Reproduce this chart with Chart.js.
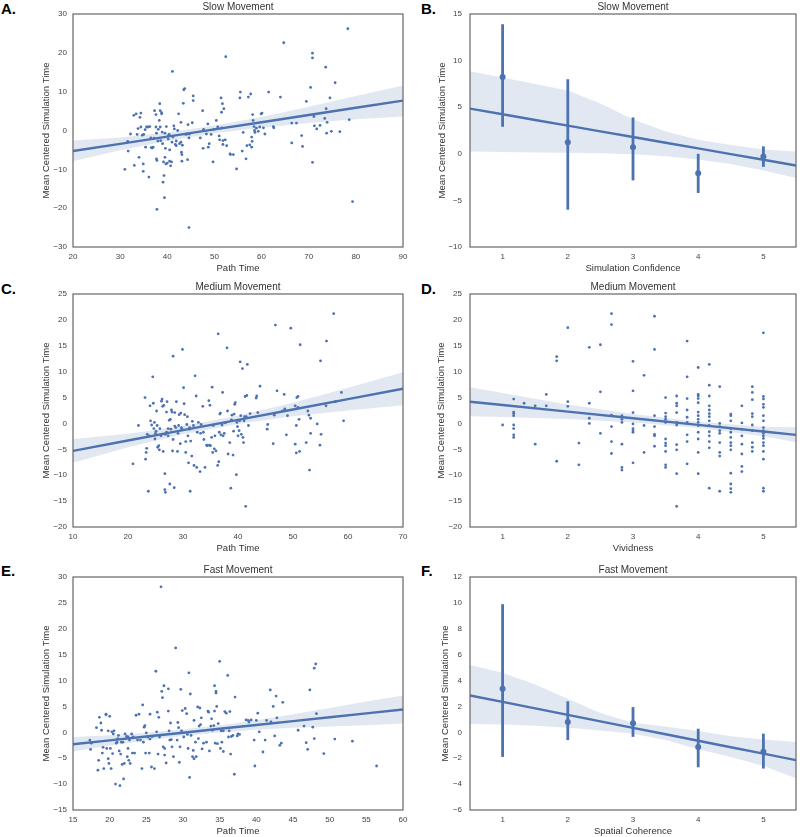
<!DOCTYPE html>
<html>
<head>
<meta charset="utf-8">
<script src="https://cdn.jsdelivr.net/npm/chart.js@4/dist/chart.umd.min.js"></script>
<style>
  body { margin: 0; width: 800px; height: 837px; overflow: hidden; background: #fff; position: relative; }
  canvas { position: absolute; }
  .lab { position: absolute; font: bold 15px "Liberation Sans", Arial, sans-serif; line-height: 1; color: #000; }
</style>
</head>
<body>
<div class="lab" style="left:1px;top:1px">A.</div>
<div class="lab" style="left:421px;top:1px">B.</div>
<div class="lab" style="left:1px;top:281px">C.</div>
<div class="lab" style="left:421px;top:281px">D.</div>
<div class="lab" style="left:1px;top:563px">E.</div>
<div class="lab" style="left:421px;top:563px">F.</div>
<canvas id="pa" width="410" height="278" style="left:0;top:0"></canvas>
<canvas id="pb" width="400" height="278" style="left:400px;top:0"></canvas>
<canvas id="pc" width="410" height="278" style="left:0;top:280px"></canvas>
<canvas id="pd" width="400" height="278" style="left:400px;top:280px"></canvas>
<canvas id="pe" width="410" height="278" style="left:0;top:563px"></canvas>
<canvas id="pf" width="400" height="278" style="left:400px;top:563px"></canvas>
<script>
// ---- A. slow movement: path time vs simulation time
const slowPath = [31.0,31.6,31.7,32.2,32.9,33.4,33.0,33.6,33.8,34.2, 34.0,34.4,34.4,34.7,34.9,34.9,35.0,35.3,35.4,35.6,
  35.9,36.1,36.3,36.5,36.6,36.8,37.0,37.2,37.3,37.6, 37.6,37.7,37.7,37.8,37.8,38.0,38.1,38.3,38.4,38.5,
  38.5,38.6,38.8,38.8,38.9,39.0,39.1,39.2,39.3,39.4, 39.5,39.5,39.6,39.7,39.8,40.0,40.2,40.2,40.4,40.5,
  40.5,40.7,40.9,41.0,41.1,41.2,41.4,41.5,41.7,41.9, 41.9,42.2,42.4,42.6,42.9,42.9,43.0,43.1,43.1,43.2,
  43.4,43.5,43.7,43.9,44.2,44.3,44.4,44.6,44.6,44.7, 45.3,45.5,45.5,47.0,47.5,47.6,47.7,48.3,48.6,48.7,
  48.9,49.3,49.7,49.9,50.4,50.7,51.0,51.1,51.4,51.5, 51.6,51.7,51.8,51.8,52.0,52.3,52.4,52.6,53.3,53.4,
  54.0,54.7,55.4,55.5,55.9,56.1,56.7,56.9,57.2,57.5, 57.7,57.9,57.9,58.0,58.1,58.2,58.4,58.5,58.6,58.9,
  59.3,59.6,59.9,60.1,60.4,60.7,61.5,62.5,62.6,64.0, 64.7,66.4,66.4,67.4,68.5,68.7,69.5,70.4,70.8,70.8,
  70.8,71.1,71.2,71.7,72.4,73.4,73.6,73.7,73.8,73.9, 74.5,74.8,75.6,76.6,78.3,78.6,79.3];
const slowSim = [-10.0,-2.8,-5.3,-0.9,3.9,4.3,-9.0,-1.0,0.5,3.4, -6.9,4.5,0.9,-1.2,-8.6,-10.5,-1.0,0.2,-4.3,0.9,
  0.9,-12.0,1.0,-1.9,-4.4,-4.5,-4.3,-2.0,5.1,0.9, 4.1,-0.7,-7.3,-20.3,-7.7,-2.7,0.3,2.6,6.9,5.1,
  0.9,-2.6,4.6,4.3,-0.4,-3.4,-13.3,-8.1,-11.6,-17.3, -6.9,-0.7,-4.6,-8.6,1.0,-8.4,-2.2,-1.4,-1.0,-5.0,
  -7.9,-9.1,-8.1,-3.0,15.2,-1.7,1.2,0.4,-3.6,-2.7, -3.9,0.0,4.3,-3.4,2.1,-3.0,-5.6,-6.2,-7.9,-3.8,
  7.0,10.5,10.8,-1.0,-0.9,-7.5,1.5,-25.0,-1.9,-0.9, 2.0,8.9,7.7,-1.9,5.1,-4.6,0.3,-0.9,1.7,-4.3,
  -3.4,-1.0,-8.1,0.3,2.6,0.9,-1.4,-2.4,8.4,4.7, 0.7,6.9,-2.6,-3.6,5.6,-2.4,19.0,-3.9,-6.0,-6.2,
  -6.2,-9.9,8.4,9.9,-5.3,-0.5,-7.3,-3.9,8.6,-3.7, 9.4,-1.7,-4.3,-2.8,4.1,2.6,1.0,0.0,-0.5,0.6,
  -0.2,0.9,4.3,4.5,0.7,-0.9,9.9,1.0,0.7,8.6, 22.6,1.9,-3.2,1.9,-1.3,-4.1,7.5,11.1,19.9,18.7,
  -8.2,3.6,1.2,0.4,1.3,3.1,16.3,5.6,-0.7,2.1, 8.4,-0.2,12.3,-0.3,26.2,2.8,-18.3];
const slowFitX = [20, 30, 40, 50, 60, 70, 80, 90];
const slowFitY = [-5.3, -3.44, -1.58, 0.28, 2.14, 4.0, 5.86, 7.7];
const slowCiLo = [-7.9, -5.1, -2.7, -0.7, 0.7, 1.9, 2.9, 3.6];
const slowCiHi = [-2.6, -1.8, -0.5, 1.3, 3.5, 6.1, 8.9, 11.6];

// ---- B. slow movement: simulation confidence
const confLevels = [1, 2, 3, 4, 5];
const confMean = [8.25, 1.25, 0.7, -2.1, -0.3];
const confLo = [2.9, -6.0, -2.85, -4.2, -1.4];
const confHi = [13.9, 8.0, 3.9, 0.0, 0.8];
const confFitX = [0.5, 1, 1.5, 2, 2.5, 3, 3.5, 4, 4.5, 5, 5.5];
const confFitY = [4.85, 4.24, 3.63, 3.02, 2.41, 1.8, 1.19, 0.58, -0.03, -0.64, -1.25];
const confCiLo = [0.25, 0.2, 0.15, 0.1, 0.05, -0.05, -0.25, -0.6, -1.1, -1.8, -2.6];
const confCiHi = [8.85, 8.2, 7.5, 6.8, 5.4, 3.7, 2.4, 1.5, 0.95, 0.45, 0.25];

// ---- C. medium movement: path time
const medPath = [20.9,21.9,23.1,23.2,23.3,23.4,23.5,23.7,23.9,24.0, 24.1,24.3,24.5,24.6,24.7,24.8,24.9,25.0,25.1,25.2,
  25.3,25.4,25.6,25.7,25.8,26.0,26.1,26.2,26.3,26.4, 26.5,26.7,26.7,26.8,26.8,27.0,27.0,27.1,27.3,27.3,
  27.5,27.6,27.7,27.8,27.9,28.0,28.1,28.2,28.2,28.4, 28.5,28.5,28.7,28.8,29.0,29.1,29.2,29.3,29.5,29.6,
  29.7,29.8,29.9,30.1,30.2,30.3,30.5,30.5,30.7,30.8, 30.9,31.0,31.2,31.2,31.3,31.4,31.6,31.7,31.9,32.0,
  32.2,32.4,32.5,32.6,32.8,33.1,33.2,33.3,33.6,33.7, 33.8,34.0,34.3,34.4,34.7,34.8,34.9,35.0,35.2,35.3,
  35.4,35.5,35.7,35.8,36.0,36.3,36.4,36.5,36.6,36.7, 36.8,36.9,37.1,37.2,37.3,37.5,37.7,38.0,38.1,38.2,
  38.5,38.7,38.8,38.9,39.1,39.2,39.3,39.4,39.5,39.7, 39.8,39.9,40.0,40.2,40.3,40.4,40.5,40.6,40.8,40.9,
  41.0,41.1,41.2,41.3,41.4,41.5,41.6,41.7,41.9,42.2, 43.3,43.4,43.6,44.0,45.3,45.4,46.4,46.6,46.8,47.1,
  48.1,48.4,48.5,48.8,49.0,49.6,50.4,50.6,50.7,50.9, 50.9,51.1,51.2,51.3,52.4,52.7,52.9,53.2,53.2,54.4,
  54.9,55.0,55.1,56.0,56.1,57.4,57.7,58.8,59.2,53.0, 50.4,50.6];
const medSim = [-7.8,-0.4,5.0,-6.9,-5.6,-4.8,-2.1,-13.1,-2.4,3.4, 0.5,-0.3,9.0,3.9,-1.0,0.2,-3.0,-1.9,-1.5,2.4,
  -0.4,-4.6,-4.3,-5.1,-1.0,-2.4,4.3,4.7,3.3,-5.4, 3.5,-12.8,-9.7,-2.1,-13.3,2.2,-1.7,4.2,-1.0,-2.4,
  0.6,-11.7,0.8,-1.1,2.6,2.2,-5.3,13.0,-3.1,-12.4, 2.1,-0.5,-0.8,4.2,-5.4,-1.9,-0.4,1.7,-3.9,2.0,
  -0.8,-1.1,14.3,6.9,3.8,1.7,-3.5,-5.6,-0.2,1.3, -2.4,-7.6,-0.8,-1.1,-13.1,-3.4,-6.3,0.4,-0.4,-8.1,
  9.2,5.3,-8.5,-1.7,0.2,-9.3,-1.9,-0.2,3.3,-1.7, -3.1,-8.5,-4.2,-4.3,4.4,-4.2,3.5,-4.3,-2.7,7.0,
  -5.6,-0.4,-4.9,-2.4,-5.3,-8.1,17.3,-7.4,-1.7,1.8, 2.0,-2.2,-0.3,6.0,-2.4,-1.9,0.1,14.6,2.4,-5.9,
  -3.7,-12.5,0.7,1.6,-6.1,-1.5,1.8,3.7,4.0,-9.9, 0.2,-0.6,-2.4,-1.4,0.5,11.9,1.5,-2.1,10.6,-2.7,
  -3.7,0.5,1.3,5.2,-16.0,1.3,5.4,11.4,-0.4,1.9, 4.9,5.3,2.1,7.2,-1.1,-0.2,-3.9,1.6,19.0,6.3,
  2.4,5.6,2.8,-2.2,1.5,18.4,3.4,-0.4,5.0,5.2, 3.1,0.8,-5.4,15.2,-3.7,2.4,1.6,1.0,-1.9,-0.1,
  -4.2,12.1,-2.1,3.4,15.9,21.2,4.2,6.0,0.5,-9.0, -4.0,-5.7];
const medFitX = [10, 20, 30, 40, 50, 60, 70];
const medFitY = [-5.3, -3.3, -1.3, 0.7, 2.7, 4.7, 6.7];
const medCiLo = [-7.6, -4.6, -2.1, -0.1, 1.4, 2.5, 3.5];
const medCiHi = [-3.0, -2.0, -0.5, 1.5, 4.0, 6.9, 9.9];

// ---- D. medium movement: vividness (values grouped by rating level)
const vividLevels = [1.0, 1.17, 1.33, 1.5, 1.67, 1.83, 2.0, 2.17, 2.33, 2.5, 2.67, 2.83, 3.0,
  3.17, 3.33, 3.5, 3.67, 3.83, 4.0, 4.17, 4.33, 4.5, 4.67, 4.83, 5.0];
const vividTimes = [
  [-0.3],
  [4.7, 2.2, 1.9, 1.5, -0.3, -1.0, -2.2, -2.7],
  [3.9],
  [3.4, -4.0],
  [5.6, 3.4],
  [12.9, 12.1, -7.3],
  [18.5, 4.2, 3.3],
  [-3.8, -8.0],
  [14.7, 3.9, 1.0, 0.0],
  [15.2, 6.1, -1.9],
  [21.2, 19.1, 1.6, -0.6, -3.5, -5.8],
  [1.5, 0.8, 0.2, -4.0, -8.5, -9.0],
  [12.0, 6.3, 2.1, -0.1, -1.0, -1.4, -1.7, -7.6],
  [9.3, -0.4, -5.6],
  [20.7, 14.3, 1.5, -0.6, -2.1, -2.4, -4.4],
  [5.0, 2.0, 1.3, 0.8, 0.2, -3.0, -3.8, -4.3, -5.4, -8.0, -8.5],
  [5.3, 3.9, 3.4, 2.1, 0.2, -0.3, -4.1, -5.1, -9.7, -16.0],
  [15.9, 9.0, 4.8, 2.6, 1.2, 0.2, -2.2, -3.5, -7.8],
  [10.8, 5.6, 5.3, 4.8, 4.0, 2.2, 1.5, 0.8, 0.2, -0.4, -1.7, -3.0, -5.6, -9.7],
  [11.4, 7.4, 5.3, 3.4, 2.6, 1.9, 1.3, 0.5, -0.4, -1.6, -2.4, -3.5, -4.7, -12.5],
  [7.1, 0.0, -0.6, -1.4, -1.9, -3.7, -5.6, -6.3, -13.1],
  [1.8, 1.5, 0.5, -1.0, -1.7, -2.7, -3.7, -4.3, -5.1, -9.6, -11.7, -12.6, -13.3],
  [3.4, 0.1, -1.1, -2.4, -4.0, -5.9, -8.3, -9.3],
  [7.1, 6.0, 4.6, 1.9, 1.3, -0.3, -1.4, -3.7, -4.6, -5.4],
  [17.5, 5.2, 4.7, 3.7, 3.1, 1.5, 0.5, -0.8, -1.4, -1.9, -2.4, -2.9, -3.7, -4.3, -5.4, -6.9, -12.5, -13.1]
];
const vividFitX = [0.5, 1, 2, 3, 4, 5, 5.5];
const vividFitY = [4.2, 3.56, 2.28, 1.0, -0.28, -1.56, -2.2];
const vividCiLo = [1.4, 1.26, 0.88, 0.2, -0.88, -2.46, -3.65];
const vividCiHi = [7.0, 5.86, 3.68, 1.8, 0.32, -0.66, -0.75];

// ---- E. fast movement: path time
const fastPath = [17.3,17.4,17.5,18.2,18.4,18.5,18.6,18.8,18.9,19.0, 19.1,19.2,19.5,19.5,19.6,19.8,19.8,19.9,20.0,20.1,
  20.2,20.3,20.4,20.5,20.6,20.8,20.9,21.0,21.1,21.2, 21.3,21.4,21.5,21.6,21.7,21.8,21.9,22.0,22.1,22.3,
  22.4,22.5,22.5,22.6,22.7,22.8,23.0,23.1,23.2,23.4, 23.6,23.8,24.0,24.2,24.4,24.5,24.6,24.7,24.8,24.9,
  25.0,25.2,25.4,25.5,25.5,25.7,25.8,26.1,26.3,26.4, 26.5,26.6,26.7,26.8,27.0,27.1,27.2,27.3,27.4,27.5,
  27.5,27.7,28.0,28.0,28.1,28.2,28.3,28.4,28.5,28.7, 29.0,29.2,29.3,29.4,29.5,29.6,29.7,29.8,29.9,30.1,
  30.3,30.5,30.6,30.7,30.8,30.9,31.0,31.1,31.3,31.4, 31.5,31.5,31.7,31.8,32.0,32.1,32.2,32.3,32.4,32.5,
  32.6,32.8,33.2,33.4,33.5,33.6,33.8,33.9,34.0,34.2, 34.3,34.3,34.4,34.5,34.5,34.6,34.7,34.8,35.0,35.1,
  35.2,35.3,35.5,35.5,35.7,35.9,36.1,36.2,36.3,36.4, 36.5,36.6,36.8,37.0,37.1,37.4,37.5,37.7,38.6,38.9,
  39.0,39.3,39.7,39.8,40.0,40.2,40.4,40.9,41.2,41.4, 41.9,42.0,42.3,42.5,42.7,42.8,43.2,43.4,43.6,45.7,
  46.5,46.8,47.0,47.3,47.7,47.9,47.9,48.1,48.2,49.2, 50.7,53.1,56.4];
const fastSim = [-1.5,-3.3,-2.1,0.9,-7.3,-5.4,2.9,1.8,0.4,-4.0, -2.9,-7.0,3.4,3.5,-3.1,0.3,-5.1,-6.0,3.1,-3.1,
  -7.0,0.1,-4.1,-0.3,0.3,-10.0,-2.1,-1.9,-1.2,-0.6, -3.6,-10.3,-4.2,-1.9,-6.2,-1.9,-9.0,-6.0,-0.3,-0.8,
  -4.7,-0.9,-3.1,-5.4,-1.5,-6.0,-0.3,-4.0,-0.9,-4.0, 3.3,-1.5,3.5,-1.5,-7.0,5.3,-1.9,1.0,1.3,-4.0,
  -0.1,-0.9,-4.0,3.5,-1.3,-6.7,-0.8,-7.0,11.8,0.1, 3.9,-4.2,2.9,-0.9,28.1,7.9,6.7,-2.8,9.0,-3.1,
  -4.4,-5.9,8.4,4.1,0.3,-1.5,1.8,-1.4,-2.8,-4.7, 16.3,-1.5,1.9,0.9,-5.8,-2.8,8.3,0.3,4.2,-0.9,
  4.6,3.6,-0.4,-3.1,11.5,-8.7,7.4,-0.6,-4.7,-3.5, 2.3,-5.1,-1.9,-4.7,4.9,-1.2,1.2,4.7,1.5,2.8,
  -3.2,-2.1,-1.9,4.1,3.9,-3.6,1.2,2.6,0.4,1.3, 9.0,4.1,-2.1,7.9,7.6,5.0,-2.2,1.7,13.7,-3.1,
  0.3,-1.9,-3.7,0.3,4.0,3.7,11.0,-0.9,0.3,4.0, -4.2,-0.8,-0.6,-8.1,6.8,-0.7,-0.3,-0.4,2.4,2.3,
  2.0,2.4,-1.5,-6.5,2.3,3.7,0.1,-3.8,-1.5,2.3, 8.2,2.0,5.0,-0.7,7.0,2.8,-2.5,-2.1,5.8,0.4,
  1.2,-2.0,-3.3,8.2,1.0,-1.2,12.4,13.2,3.6,-4.1, -1.3,-1.7,-6.5];
const fastFitX = [15, 20, 25, 30, 35, 40, 45, 50, 55, 60];
const fastFitY = [-2.3, -1.56, -0.81, -0.07, 0.68, 1.42, 2.17, 2.91, 3.66, 4.4];
const fastCiLo = [-3.7, -2.56, -1.56, -0.72, -0.02, 0.52, 0.87, 1.11, 1.36, 1.7];
const fastCiHi = [-0.9, -0.56, -0.06, 0.58, 1.38, 2.32, 3.47, 4.71, 5.96, 7.1];

// ---- F. fast movement: spatial coherence
const cohLevels = [1, 2, 3, 4, 5];
const cohMean = [3.36, 0.8, 0.7, -1.13, -1.5];
const cohLo = [-1.9, -0.6, -0.35, -2.7, -2.8];
const cohHi = [9.9, 2.4, 1.95, 0.28, -0.1];
const cohFitX = [0.5, 1, 1.5, 2, 2.5, 3, 3.5, 4, 4.5, 5, 5.5];
const cohFitY = [2.85, 2.35, 1.85, 1.35, 0.85, 0.35, -0.15, -0.65, -1.15, -1.65, -2.15];
const cohCiLo = [0.65, 0.6, 0.5, 0.35, 0.15, -0.1, -0.6, -1.3, -1.9, -2.6, -3.55];
const cohCiHi = [5.2, 4.6, 3.7, 2.6, 1.5, 0.75, 0.45, 0.1, -0.3, -0.55, -0.75];

const ratingTicks = [1, 2, 3, 4, 5];

const BLUE = '#4c72b0';
const BAND = 'rgba(76, 114, 176, 0.16)';
const FONT = '"Liberation Sans", Arial, sans-serif';
const YTITLE = 'Mean Centered Simulation Time';

const zip = (xs, ys) => xs.slice(0, ys.length).map((x, i) => ({ x, y: ys[i] }));
const minus = v => String(v).replace('-', '\u2212');

// frame on all four sides + panel title centred over the plot
const frame = {
  id: 'frame',
  afterDraw(chart, args, opts) {
    const { ctx, chartArea: a } = chart;
    ctx.save();
    ctx.strokeStyle = '#666';
    ctx.lineWidth = 1.2;
    ctx.strokeRect(a.left, a.top, a.right - a.left, a.bottom - a.top);
    ctx.fillStyle = '#333';
    ctx.font = '10px ' + FONT;
    ctx.textAlign = 'center';
    ctx.textBaseline = 'middle';
    ctx.fillText(opts.text, (a.left + a.right) / 2, a.top - 7);
    ctx.restore();
  }
};

function fitSets(fx, fy, lo, hi) {
  return {
    line: { type: 'line', data: zip(fx, fy), borderColor: BLUE, borderWidth: 2.4, pointRadius: 0, fill: false },
    hi: { type: 'line', data: zip(fx, hi), borderWidth: 0, borderColor: 'rgba(0,0,0,0)', pointRadius: 0, fill: false },
    lo: { type: 'line', data: zip(fx, lo), borderWidth: 0, borderColor: 'rgba(0,0,0,0)', pointRadius: 0, fill: '-1', backgroundColor: BAND }
  };
}

function panel(id, p) {
  const right = p.col === 1;
  new Chart(document.getElementById(id), {
    type: 'scatter',
    data: { datasets: p.datasets },
    plugins: [frame],
    options: {
      responsive: false,
      animation: false,
      layout: { padding: { top: 14, right: right ? 2 : 7, left: 0, bottom: 0 } },
      plugins: { legend: { display: false }, tooltip: { enabled: false }, frame: { text: p.title } },
      scales: {
        x: {
          type: 'linear', min: p.x[0], max: p.x[1],
          grid: { display: false, drawTicks: false }, border: { display: false },
          ticks: { stepSize: p.x[2], padding: 5, color: '#444', font: { size: 8, family: FONT },
                   maxRotation: 0, autoSkip: false, callback: minus },
          title: { display: true, text: p.xTitle, color: '#333', font: { size: 9.5, family: FONT },
                   padding: { top: 0, bottom: 4 } },
          afterBuildTicks: p.xTicks ? s => { s.ticks = p.xTicks.map(v => ({ value: v })); } : undefined,
          afterFit: s => { s.height = 31; s.paddingLeft = 0; s.paddingRight = 0; }
        },
        y: {
          min: p.y[0], max: p.y[1],
          grid: { display: false, drawTicks: false }, border: { display: false },
          ticks: { stepSize: p.y[2], padding: right ? 8 : 6, color: '#444', font: { size: 8, family: FONT },
                   autoSkip: false, callback: minus },
          title: { display: true, text: YTITLE, color: '#333', font: { size: 9.5, family: FONT },
                   padding: { top: p.yTitleOff, bottom: 0 } },
          afterFit: s => { s.width = right ? 70 : 73; s.paddingTop = 0; s.paddingBottom = 0; }
        }
      }
    }
  });
}

function scatterPanel(id, xs, ys, fit, p) {
  p.datasets = [fit.line,
    { data: zip(xs, ys), backgroundColor: BLUE, borderWidth: 0, pointRadius: 1.4 },
    fit.hi, fit.lo];
  panel(id, p);
}

function estimatePanel(id, levels, mean, lo, hi, fit, p) {
  const bars = levels.map((c, i) => ({
    type: 'line', data: [{ x: c, y: lo[i] }, { x: c, y: hi[i] }],
    borderColor: BLUE, borderWidth: 2.8, pointRadius: 0, fill: false
  }));
  p.datasets = [fit.line,
    { data: zip(levels, mean), backgroundColor: BLUE, borderWidth: 0, pointRadius: 3 },
    ...bars, fit.hi, fit.lo];
  panel(id, p);
}

scatterPanel('pa', slowPath, slowSim, fitSets(slowFitX, slowFitY, slowCiLo, slowCiHi),
  { col: 0, title: 'Slow Movement', xTitle: 'Path Time', x: [20, 90, 10], y: [-30, 30, 10], yTitleOff: 41 });

estimatePanel('pb', confLevels, confMean, confLo, confHi, fitSets(confFitX, confFitY, confCiLo, confCiHi),
  { col: 1, title: 'Slow Movement', xTitle: 'Simulation Confidence', x: [0.5, 5.5, 1], xTicks: ratingTicks,
    y: [-10, 15, 5], yTitleOff: 37 });

scatterPanel('pc', medPath, medSim, fitSets(medFitX, medFitY, medCiLo, medCiHi),
  { col: 0, title: 'Medium Movement', xTitle: 'Path Time', x: [10, 70, 10], y: [-20, 25, 5], yTitleOff: 41 });

const vividX = [];
const vividY = [];
vividLevels.forEach((lv, i) => vividTimes[i].forEach(v => { vividX.push(lv); vividY.push(v); }));
scatterPanel('pd', vividX, vividY, fitSets(vividFitX, vividFitY, vividCiLo, vividCiHi),
  { col: 1, title: 'Medium Movement', xTitle: 'Vividness', x: [0.5, 5.5, 1], xTicks: ratingTicks,
    y: [-20, 25, 5], yTitleOff: 36 });

scatterPanel('pe', fastPath, fastSim, fitSets(fastFitX, fastFitY, fastCiLo, fastCiHi),
  { col: 0, title: 'Fast Movement', xTitle: 'Path Time', x: [15, 60, 5], y: [-15, 30, 5], yTitleOff: 41 });

estimatePanel('pf', cohLevels, cohMean, cohLo, cohHi, fitSets(cohFitX, cohFitY, cohCiLo, cohCiHi),
  { col: 1, title: 'Fast Movement', xTitle: 'Spatial Coherence', x: [0.5, 5.5, 1], xTicks: ratingTicks,
    y: [-6, 12, 2], yTitleOff: 40 });
</script>
</body>
</html>
